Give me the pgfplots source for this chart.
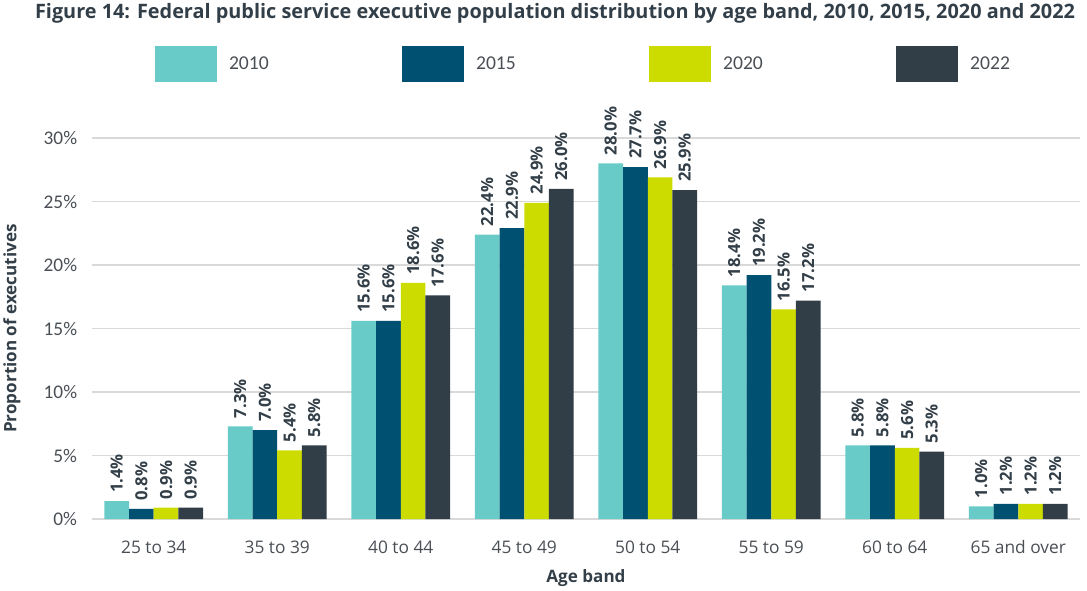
\documentclass[border=0pt]{standalone}
\usepackage{pgfplots}
\pgfplotsset{compat=1.18}
\usepackage{fontspec}
\setmainfont{Open Sans}
\newfontfamily\carlito{Carlito}
\definecolor{cA}{HTML}{68CBC8}
\definecolor{cB}{HTML}{005072}
\definecolor{cC}{HTML}{CCDC00}
\definecolor{cD}{HTML}{313D47}
\definecolor{txt}{HTML}{333F48}
\definecolor{tick}{HTML}{4A4F55}
\definecolor{grd}{HTML}{D9D9D9}
\begin{document}
\begin{tikzpicture}
\useasboundingbox (-69pt,-53.25pt) rectangle (746.25pt,389.25pt);
\begin{axis}[
  at={(0pt,0pt)}, anchor=south west,
  scale only axis, width=741pt, height=285.75pt,
  ybar=0pt, bar width=0.2,
  xmin=-0.5, xmax=7.5, ymin=0, ymax=30,
  clip=false,
  axis line style={draw=none},
  major tick length=0pt,
  ymajorgrids, major grid style={grd, line width=0.9pt},
  ytick={0,5,...,30},
  yticklabel={\pgfmathprintnumber{\tick}\%},
  /pgf/number format/assume math mode=true,
  yticklabel style={font=\carlito\fontsize{14.5}{16}\selectfont, text=tick, inner sep=0pt, xshift=-11pt},
  xtick={0,...,7},
  xticklabels={25 to 34,35 to 39,40 to 44,45 to 49,50 to 54,55 to 59,60 to 64,65 and over},
  xticklabel style={font=\fontsize{13}{15}\selectfont, text=tick, inner sep=0pt, anchor=north, yshift=-16pt},
  xlabel={Age band},
  xlabel style={font=\bfseries\fontsize{12.8}{14}\selectfont, text=txt, at={(axis description cs:0.5,-0.1549)}, anchor=center},
  ylabel={Proportion of executives},
  ylabel style={font=\bfseries\fontsize{12.8}{14}\selectfont, text=txt, at={(axis description cs:-0.081,0.5)}, anchor=center, rotate=0},
  title={Figure 14: Federal public service executive population distribution by age band, 2010, 2015, 2020 and 2022},
  title style={font=\bfseries\fontsize{14.9}{16}\selectfont, text=txt, at={(axis description cs:0.4686,1.305)}, anchor=center, inner sep=0pt, yshift=0pt},
  nodes near coords={\pgfmathprintnumber[fixed,fixed zerofill,precision=1]{\pgfplotspointmeta}\%},
  nodes near coords style={rotate=90, anchor=west, inner xsep=6pt, inner ysep=0pt, font=\bfseries\fontsize{12.5}{14}\selectfont, text=txt},
  legend columns=4,
  legend image code/.code={\fill[#1] (0pt,-13.5pt) rectangle (46.5pt,13.5pt);},
  legend style={draw=none, fill=none, inner sep=0pt, outer sep=0pt,
    at={(axis description cs:0.0638,1.1942)}, anchor=west,
    font=\carlito\fontsize{14.7}{16}\selectfont, text=tick,
    nodes={inner sep=0pt},
    /tikz/every odd column/.append style={column sep=9pt},
    /tikz/every even column/.append style={column sep=100pt}},
  legend cell align=left,
]
\addplot[fill=cA, draw=none] coordinates {(0,1.4) (1,7.3) (2,15.6) (3,22.4) (4,28.0) (5,18.4) (6,5.8) (7,1.0)};
\addplot[fill=cB, draw=none] coordinates {(0,0.8) (1,7.0) (2,15.6) (3,22.9) (4,27.7) (5,19.2) (6,5.8) (7,1.2)};
\addplot[fill=cC, draw=none] coordinates {(0,0.9) (1,5.4) (2,18.6) (3,24.9) (4,26.9) (5,16.5) (6,5.6) (7,1.2)};
\addplot[fill=cD, draw=none] coordinates {(0,0.9) (1,5.8) (2,17.6) (3,26.0) (4,25.9) (5,17.2) (6,5.3) (7,1.2)};
\legend{2010,2015,2020,2022}
\end{axis}
\end{tikzpicture}
\end{document}
